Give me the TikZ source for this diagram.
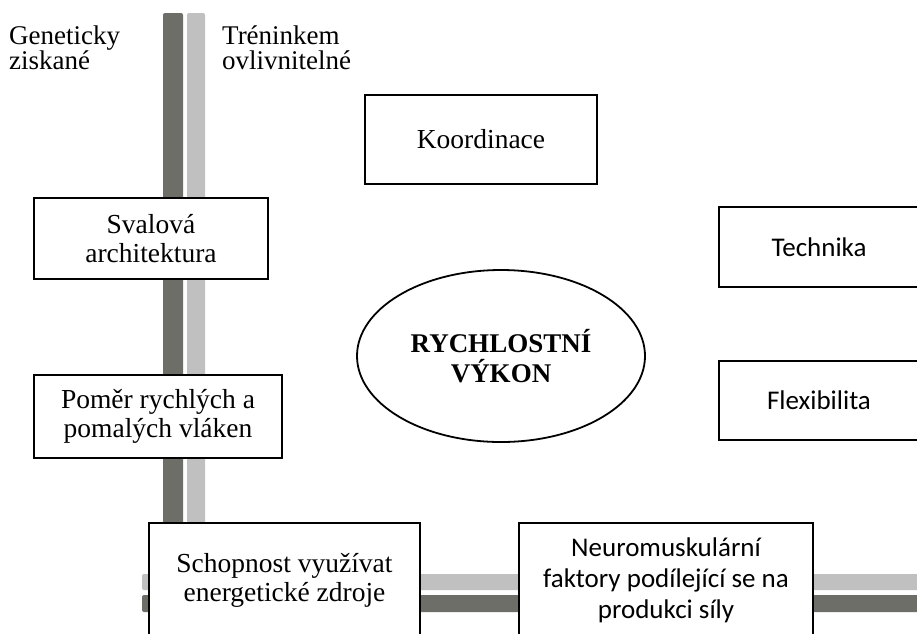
\documentclass[tikz,border=0pt]{standalone}
\usepackage{fontspec}
\setmainfont{Liberation Serif}
\newfontfamily\calibri{Carlito}
\usetikzlibrary{shapes.geometric}
\definecolor{darkbar}{RGB}{110,110,105}
\definecolor{lightbar}{RGB}{192,192,192}

\begin{document}
\begin{tikzpicture}[x=1pt,y=-1pt,
  factor/.style={draw,line width=2.6pt,fill=white,align=center,inner sep=0pt,
    font=\fontsize{27.5}{29}\selectfont},
  sansfactor/.style={factor,font=\calibri\fontsize{27}{31}\selectfont},
  side/.style={align=left,inner sep=0pt,anchor=north west,
    font=\fontsize{27}{25}\selectfont}]
  \useasboundingbox (0,0) rectangle (917,633);
  \clip (0,0) rectangle (917,633);
  \fill[white] (0,0) rectangle (917,633);
  \fill[darkbar,rounded corners=2pt] (163,13) rectangle (183,540);
  \fill[lightbar,rounded corners=2pt] (187,13) rectangle (205,540);
  \fill[lightbar,rounded corners=2pt] (142,574) rectangle (935,590);
  \fill[darkbar,rounded corners=2pt] (142,595) rectangle (935,612);
  \node[side] (genet) at (9,26) {Geneticky\\ziskané};
  \node[side] (trenink) at (222,26) {Tréninkem\\ovlivnitelné};
  \node[factor,minimum width=232,minimum height=89] (koord) at (481,139.5) {Koordinace};
  \node[factor,minimum width=234,minimum height=81] (sval) at (151,238.5) {Svalová\\architektura};
  \node[factor,minimum width=248,minimum height=83] (pomer) at (158,416.5) {Poměr rychlých a\\pomalých vláken};
  \node[sansfactor,minimum width=200,minimum height=80] (tech) at (819,247) {Technika};
  \node[sansfactor,minimum width=200,minimum height=79] (flex) at (819,400.5) {Flexibilita};
  \node[factor,minimum width=271,minimum height=114] (zdroje) at (284.5,580) {Schopnost využívat\\energetické zdroje};
  \node[sansfactor,minimum width=294,minimum height=114] (neuro) at (666,580) {Neuromuskulární\\faktory podílející se na\\produkci síly};
  \node[draw,ellipse,line width=1.8pt,inner sep=0pt,minimum width=288,minimum height=172,
    align=center,font=\fontsize{27}{30}\selectfont\bfseries] (vykon) at (501,356) {RYCHLOSTNÍ\\VÝKON};
\end{tikzpicture}
\end{document}
